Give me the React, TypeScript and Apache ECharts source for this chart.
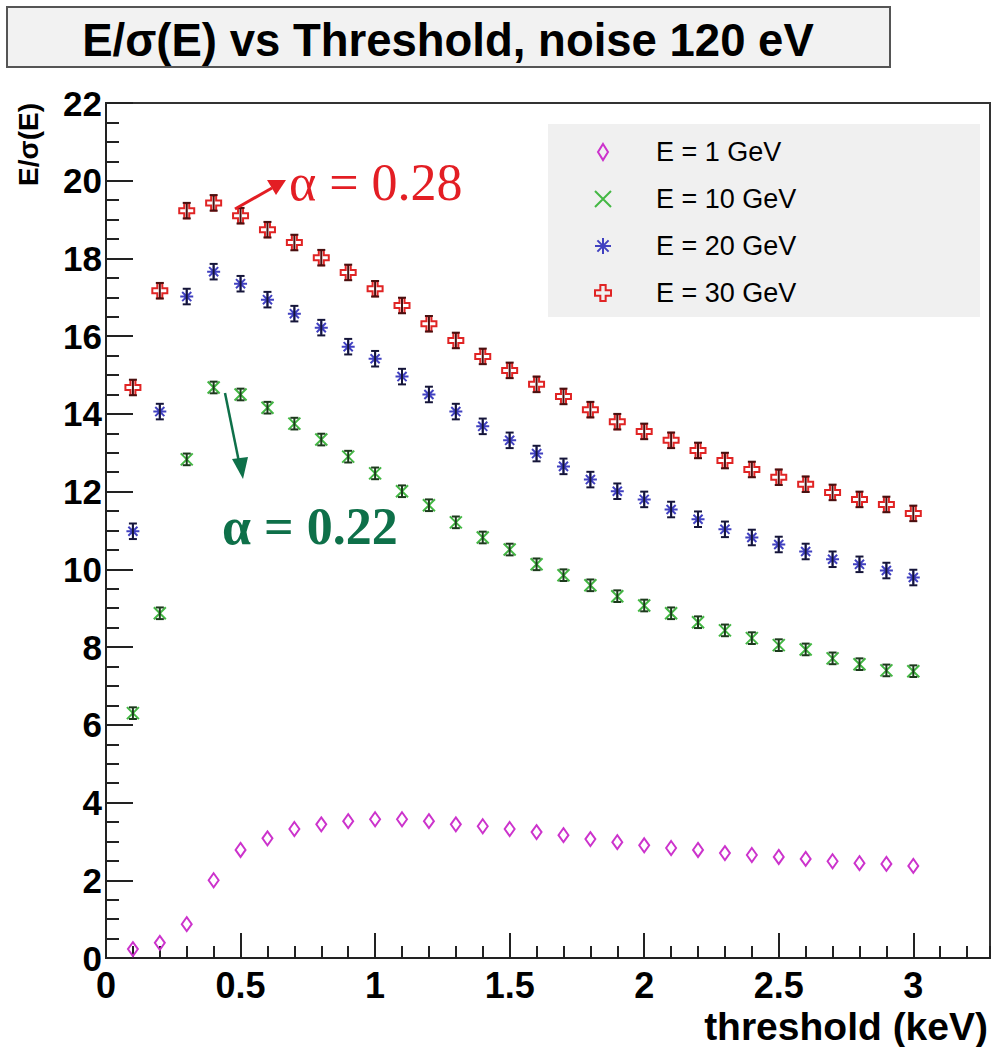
import React, { useEffect, useRef } from "react";
import * as echarts from "echarts";

const thresholds = [0.1, 0.2, 0.3, 0.4, 0.5, 0.6, 0.7, 0.8, 0.9, 1.0, 1.1, 1.2, 1.3, 1.4, 1.5, 1.6, 1.7, 1.8, 1.9, 2.0, 2.1, 2.2, 2.3, 2.4, 2.5, 2.6, 2.7, 2.8, 2.9, 3.0];

const e1GeV = [0.23, 0.39, 0.87, 2.0, 2.78, 3.08, 3.32, 3.44, 3.52, 3.57, 3.57, 3.52, 3.44, 3.39, 3.32, 3.24, 3.16, 3.06, 2.98, 2.9, 2.83, 2.78, 2.7, 2.65, 2.6, 2.55, 2.49, 2.44, 2.42, 2.37];
const e10GeV = [6.3, 8.87, 12.83, 14.68, 14.5, 14.16, 13.75, 13.34, 12.9, 12.47, 12.01, 11.65, 11.21, 10.82, 10.51, 10.13, 9.85, 9.59, 9.31, 9.07, 8.87, 8.64, 8.43, 8.23, 8.05, 7.94, 7.71, 7.56, 7.4, 7.38];
const e20GeV = [10.98, 14.06, 17.02, 17.66, 17.35, 16.94, 16.58, 16.22, 15.73, 15.42, 14.96, 14.5, 14.06, 13.68, 13.32, 12.98, 12.65, 12.31, 12.01, 11.8, 11.54, 11.29, 11.03, 10.82, 10.64, 10.46, 10.26, 10.13, 9.97, 9.79];
const e30GeV = [14.68, 17.17, 19.23, 19.43, 19.1, 18.74, 18.41, 18.02, 17.64, 17.22, 16.79, 16.32, 15.89, 15.48, 15.12, 14.76, 14.45, 14.11, 13.8, 13.55, 13.32, 13.06, 12.8, 12.57, 12.37, 12.19, 11.98, 11.8, 11.67, 11.44];

const seriesNames = ["E = 1 GeV", "E = 10 GeV", "E = 20 GeV", "E = 30 GeV"];
const errors = [0, 0.15, 0.2, 0.2];

const titleText = "E/\u03c3(E) vs Threshold, noise 120 eV";
const yTitle = "E/\u03c3(E)";
const xTitle = "threshold (keV)";
const annot28 = "\u03b1 = 0.28";
const annot22 = "\u03b1 = 0.22";

const SANS = "'Liberation Sans', Arial, Helvetica, sans-serif";
const SERIF = "'Liberation Serif', 'Times New Roman', serif";

const colors = ["#cc33cc", "#44b844", "#4040c0", "#e02424"];
const barColors = ["#552255", "#1c3a1c", "#15153a", "#4a1010"];
const symbols = [
  "path://M5,0L10,8L5,16L0,8Z",
  "path://M0,0L10,10M10,0L0,10",
  "path://M5,0L5,10M0,5L10,5M1.5,1.5L8.5,8.5M8.5,1.5L1.5,8.5",
  "path://M4,0L8,0L8,4L12,4L12,8L8,8L8,12L4,12L4,8L0,8L0,4L4,4Z",
];
const symbolSizes: any[] = [[10, 14], 12, 13, 15];

export default function App() {
  const ref = useRef<HTMLDivElement>(null);
  useEffect(() => {
    if (!ref.current) return;
    const chart = echarts.init(ref.current, undefined, { renderer: "svg" });
    const allValues = [e1GeV, e10GeV, e20GeV, e30GeV];

    const scatterSeries = allValues.map((vals, si) => ({
      name: seriesNames[si],
      type: "scatter",
      xAxisIndex: 0,
      yAxisIndex: 0,
      data: thresholds.map((x, i) => [x, vals[i]]),
      symbol: symbols[si],
      symbolSize: symbolSizes[si],
      itemStyle: {
        color: "rgba(255,255,255,0)",
        borderColor: colors[si],
        borderWidth: 2,
        opacity: 1,
      },
      z: 3,
    }));

    const errSeries = allValues
      .map((vals, si) => ({ vals, si }))
      .filter((o) => errors[o.si] > 0)
      .map(({ vals, si }) => ({
        type: "custom",
        name: seriesNames[si] + " err",
        xAxisIndex: 0,
        yAxisIndex: 0,
        data: thresholds.map((x, i) => [x, vals[i], errors[si]]),
        z: 4,
        silent: true,
        renderItem: (params: any, api: any) => {
          const x = api.value(0);
          const y = api.value(1);
          const e = api.value(2);
          const lo = api.coord([x, y - e]);
          const hi = api.coord([x, y + e]);
          const cw = 4;
          const st = { stroke: barColors[si], lineWidth: 2 };
          return {
            type: "group",
            children: [
              { type: "line", shape: { x1: lo[0], y1: lo[1], x2: hi[0], y2: hi[1] }, style: st },
              { type: "line", shape: { x1: lo[0] - cw, y1: lo[1], x2: lo[0] + cw, y2: lo[1] }, style: st },
              { type: "line", shape: { x1: hi[0] - cw, y1: hi[1], x2: hi[0] + cw, y2: hi[1] }, style: st },
            ],
          };
        },
      }));

    const option: any = {
      animation: false,
      backgroundColor: "#ffffff",
      grid: {
        left: 106,
        right: 2,
        top: 103,
        bottom: 89,
        show: true,
        borderColor: "#333",
        borderWidth: 2,
        backgroundColor: "rgba(0,0,0,0)",
      },
      legend: {
        show: true,
        data: seriesNames,
        orient: "vertical",
        left: 594,
        top: 137,
        itemWidth: 16,
        itemHeight: 16,
        itemGap: 17,
        padding: 0,
        textStyle: {
          fontFamily: SANS,
          fontSize: 27,
          color: "#000",
          lineHeight: 30,
          padding: [0, 0, 0, 40],
        },
        selectedMode: false,
      },
      xAxis: [
        {
          type: "value",
          min: 0,
          max: 3.285,
          interval: 0.5,
          position: "bottom",
          axisLine: { show: true, onZero: false, lineStyle: { color: "#222", width: 2 } },
          axisTick: { show: true, inside: true, length: 25, lineStyle: { color: "#222", width: 2 } },
          minorTick: { show: false },
          splitLine: { show: false },
          axisLabel: {
            fontFamily: SANS,
            fontWeight: "bold",
            fontSize: 36,
            lineHeight: 26,
            color: "#000",
            margin: 14,
            showMaxLabel: false,
          },
        },
        {
          type: "value",
          min: 0,
          max: 3.285,
          interval: 0.1,
          position: "bottom",
          axisLine: { show: false },
          axisTick: { show: true, inside: true, length: 12, lineStyle: { color: "#222", width: 2 } },
          splitLine: { show: false },
          axisLabel: { show: false },
        },
      ],
      yAxis: {
        type: "value",
        min: 0,
        max: 22,
        interval: 2,
        axisLine: { show: true, onZero: false, lineStyle: { color: "#222", width: 2 } },
        axisTick: { show: true, inside: true, length: 27, lineStyle: { color: "#222", width: 2 } },
        minorTick: { show: true, splitNumber: 4, length: 13, lineStyle: { color: "#222", width: 2 } },
        splitLine: { show: false },
        axisLabel: {
          fontFamily: SANS,
          fontWeight: "bold",
          fontSize: 35,
          lineHeight: 24,
          color: "#000",
          margin: 4,
          verticalAlign: "middle",
          padding: [4, 0, 0, 0],
        },
      },
      graphic: [
        {
          type: "rect",
          shape: { x: 7, y: 7, width: 883, height: 60 },
          style: { fill: "#f2f2f2", stroke: "#555", lineWidth: 2 },
          z: 0,
        },
        {
          type: "text",
          x: 448,
          y: 40,
          style: {
            text: titleText,
            fontFamily: SANS,
            fontWeight: "bold",
            fontSize: 45.5,
            fill: "#000",
            align: "center",
            verticalAlign: "middle",
          },
          z: 1,
        },
        {
          type: "rect",
          shape: { x: 548, y: 124, width: 432, height: 193 },
          style: { fill: "#f0f0f0" },
          z: -10,
        },
        {
          type: "text",
          x: 28,
          y: 103,
          rotation: Math.PI / 2,
          style: {
            text: yTitle,
            fontFamily: SANS,
            fontWeight: "bold",
            fontSize: 28,
            fill: "#000",
            align: "right",
            verticalAlign: "middle",
          },
        },
        {
          type: "text",
          x: 988,
          y: 1026,
          style: {
            text: xTitle,
            fontFamily: SANS,
            fontWeight: "bold",
            fontSize: 39,
            fill: "#000",
            align: "right",
            verticalAlign: "middle",
          },
        },
        {
          type: "text",
          x: 289,
          y: 182,
          style: {
            text: annot28,
            fontFamily: SERIF,
            fontSize: 52,
            fill: "#e31e24",
            align: "left",
            verticalAlign: "middle",
          },
          z: 10,
        },
        {
          type: "line",
          shape: { x1: 235, y1: 209, x2: 272, y2: 188 },
          style: { stroke: "#e31e24", lineWidth: 3 },
          z: 10,
        },
        {
          type: "polygon",
          shape: { points: [[286, 180], [267, 180], [276, 195]] },
          style: { fill: "#e31e24" },
          z: 10,
        },
        {
          type: "text",
          x: 222,
          y: 526,
          style: {
            text: annot22,
            fontFamily: SERIF,
            fontWeight: "bold",
            fontSize: 52,
            fill: "#0e7049",
            align: "left",
            verticalAlign: "middle",
          },
          z: 10,
        },
        {
          type: "line",
          shape: { x1: 225, y1: 393, x2: 239, y2: 462 },
          style: { stroke: "#0e7049", lineWidth: 2.5 },
          z: 10,
        },
        {
          type: "polygon",
          shape: { points: [[243, 479], [232, 459], [248, 457]] },
          style: { fill: "#0e7049" },
          z: 10,
        },
      ],
      series: [...scatterSeries, ...errSeries],
    };
    chart.setOption(option);
    return () => chart.dispose();
  }, []);

  return (
    <div style={{ position: "fixed", left: 0, top: 0, width: 992, height: 1047, background: "#fff" }}>
      <div ref={ref} style={{ width: 992, height: 1047 }} />
    </div>
  );
}
